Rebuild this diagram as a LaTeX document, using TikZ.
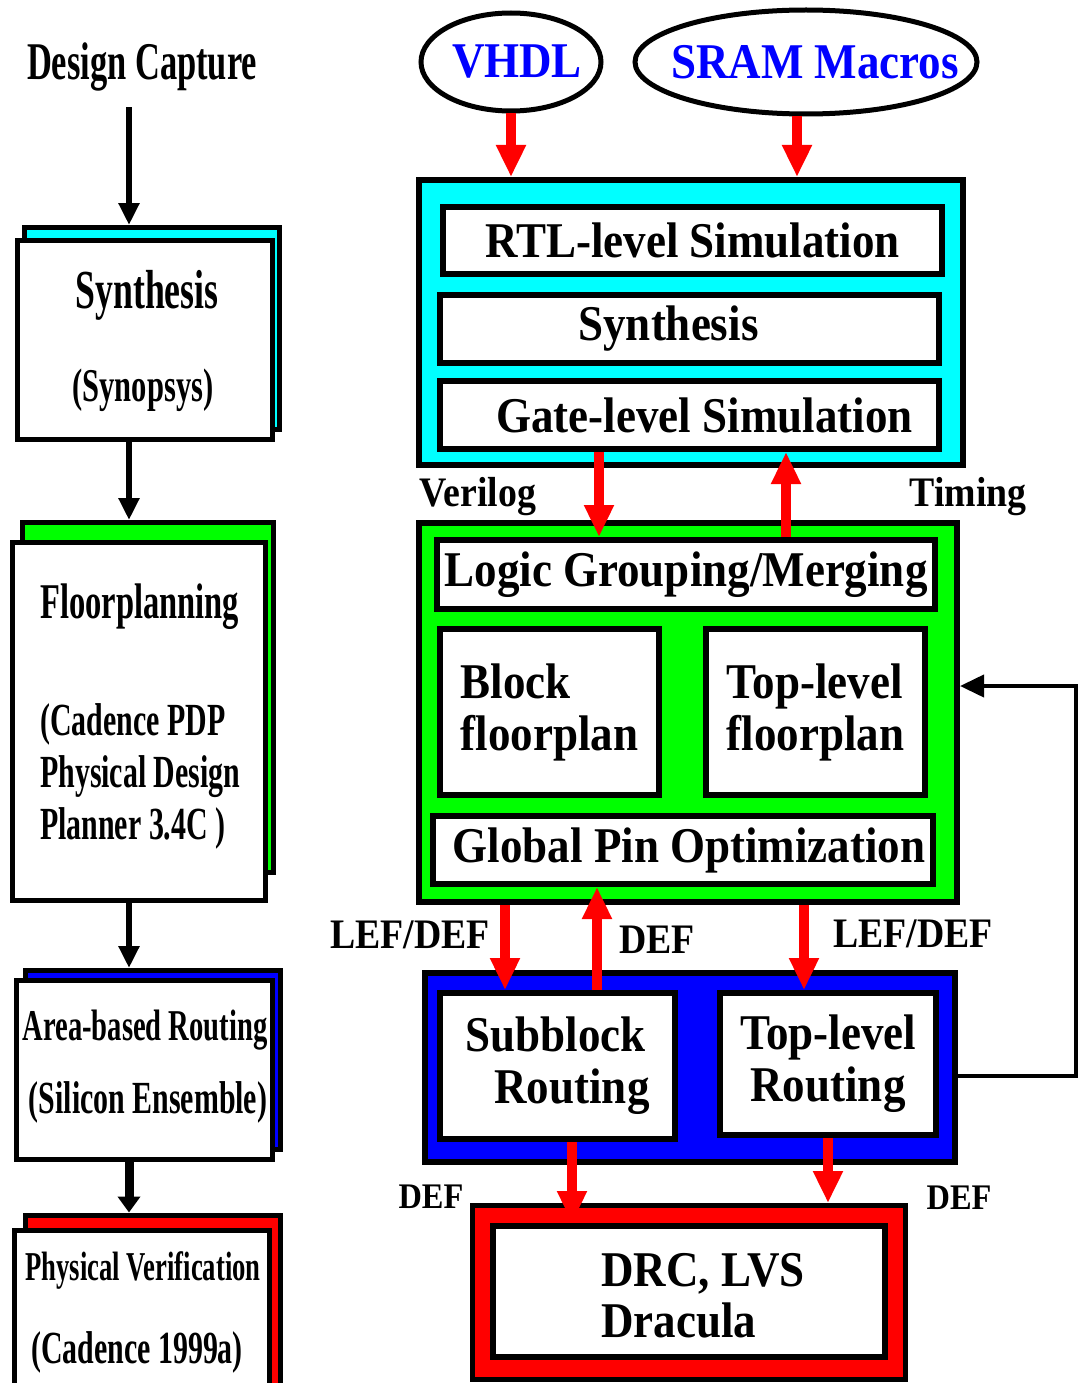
\documentclass[tikz,border=0pt]{standalone}
\usepackage{fontspec}
\setmainfont{Liberation Serif}
\newfontfamily\narrowfont[FakeStretch=0.65]{Liberation Serif}
\newfontfamily\wideserif[FakeStretch=0.9]{Liberation Serif}
\usetikzlibrary{arrows.meta,shapes.geometric}

\definecolor{aqua}{RGB}{0,255,255}
\definecolor{lime}{RGB}{0,255,0}

\newcommand{\sidefont}[1]{\narrowfont\bfseries\fontsize{#1}{#1}\selectfont}
\newcommand{\flowfont}[1]{\wideserif\bfseries\fontsize{#1}{#1}\selectfont}

\tikzset{
  sidebox/.style={draw,fill=white,line width=5pt,inner sep=0pt},
  backbox/.style={draw,line width=5pt,inner sep=0pt},
  panel/.style={draw,line width=6pt,inner sep=0pt},
  stagebox/.style={draw,fill=white,line width=6pt,inner sep=0pt,align=center,font=\flowfont{50}},
  srcoval/.style={ellipse,draw,fill=white,line width=5pt,inner sep=0pt,text=blue,font=\flowfont{50}},
  redarr/.style={draw=red,line width=10pt,-{Triangle[width=28pt,length=32pt]}},
  blkarr/.style={line width=6pt,-{Triangle[width=20pt,length=22pt]}},
  fbarr/.style={line width=4pt,-{Triangle[width=22pt,length=24pt]}},
  lbl/.style={inner sep=0pt,font=\flowfont{42}}
}

\begin{document}
\begin{tikzpicture}[x=1pt,y=-1pt]
    \useasboundingbox (0,0) rectangle (1078,1383);
    \clip (0,0) rectangle (1078,1383);

    % Left column
    \node (dc) at (142,67) [inner sep=0pt,font=\sidefont{53}] {Design Capture};

    \node (synb) at (152,328.5) [backbox,fill=aqua,minimum width=255,minimum height=202] {};
    \node (syn) at (145,340) [sidebox,minimum width=255,minimum height=199] {};
    \node (syntxt) at (147,295) [font=\sidefont{55}] {Synthesis};
    \node (syntool) at (143,390) [font=\sidefont{47}] {(Synopsys)};

    \node (fpb) at (148,697.5) [backbox,fill=lime,minimum width=251,minimum height=350] {};
    \node (fp) at (139,721.5) [sidebox,minimum width=253,minimum height=358] {};
    \node (fptxt) at (40,607) [anchor=west,inner sep=0pt,font=\sidefont{50}] {Floorplanning};
    \node (fptool) at (40,776) [anchor=west,inner sep=0pt,align=left,font=\sidefont{46}]
        {(Cadence PDP\\[6pt]Physical Design\\[6pt]Planner 3.4C )};

    \node (arb) at (153,1060) [backbox,fill=blue,minimum width=255,minimum height=179] {};
    \node (ar) at (144.5,1070) [sidebox,minimum width=256,minimum height=179] {};
    \node (artxt) at (145,1030) [font=\sidefont{44}] {Area-based Routing};
    \node (artool) at (148,1102) [font=\sidefont{46}] {(Silicon Ensemble)};

    \node (pvb) at (153,1307.5) [backbox,fill=red,minimum width=255,minimum height=185] {};
    \node (pv) at (142,1315) [sidebox,minimum width=255,minimum height=170] {};
    \node (pvtxt) at (143,1270) [font=\sidefont{41}] {Physical Verification};
    \node (pvtool) at (137,1352) [font=\sidefont{46}] {(Cadence 1999a)};

    % Left arrows
    \coordinate (la) at (129,0);
    \draw[blkarr,shorten <=16pt] (la |- dc.south) -- (la |- synb.north);
    \draw[blkarr] (la |- syn.south) -- (la |- fpb.north);
    \draw[blkarr] (la |- fp.south) -- (la |- arb.north);
    \draw[line width=9pt,-{Triangle[width=22pt,length=16pt]}] (la |- ar.south) -- (la |- pvb.north);

    % Sources
    \node (vhdl) at (511,62) [srcoval,minimum width=180,minimum height=98] {\makebox[0pt]{\hspace*{12pt}VHDL}};
    \node (sram) at (806,62) [srcoval,minimum width=342,minimum height=104] {\makebox[0pt]{\hspace*{18pt}SRAM Macros}};

    % Panels and stages
    \node (cyanp) at (691,322.5) [panel,fill=aqua,minimum width=544,minimum height=285] {};
    \node (rtl) at (692.5,240.5) [stagebox,minimum width=499,minimum height=67] {RTL-level Simulation};
    \node (syn2) at (689.5,329) [stagebox,minimum width=499,minimum height=68] {Synthesis\hspace*{42pt}};
    \node (gate) at (689.5,415) [stagebox,minimum width=499,minimum height=68] {\hspace*{30pt}Gate-level Simulation};

    \node (greenp) at (688,712.5) [panel,fill=lime,minimum width=538,minimum height=379] {};
    \node (logic) at (686,574.5) [stagebox,minimum width=498,minimum height=69] {Logic Grouping/Merging};
    \node (block) at (549.5,712) [stagebox,align=left,minimum width=219,minimum height=166] {Block\\[2pt]floorplan};
    \node (tfp) at (815.5,712) [stagebox,align=left,minimum width=219,minimum height=166] {Top-level\\[2pt]floorplan};
    \node (pin) at (683,850) [stagebox,minimum width=500,minimum height=68] {\hspace*{12pt}Global Pin Optimization};

    \node (bluep) at (690,1067.5) [panel,fill=blue,minimum width=530,minimum height=189] {};
    \node (sub) at (557.5,1066) [stagebox,align=left,minimum width=235,minimum height=146] {Subblock\\[2pt]\hspace*{29pt}Routing};
    \node (trt) at (828,1064) [stagebox,minimum width=216,minimum height=142] {Top-level\\[2pt]Routing};

    \node (drc) at (689,1292.5) [draw,fill=red,line width=5pt,inner sep=0pt,minimum width=433,minimum height=174] {};
    \node (drcin) at (689,1291.5) [draw,fill=white,line width=6pt,inner sep=0pt,minimum width=392,minimum height=131] {};
    \node (drctxt) at (601,1296) [anchor=west,inner sep=0pt,align=left,font=\flowfont{50}] {DRC, LVS\\[1pt]Dracula};

    % Labels
    \node (verilog) at (478,497) [lbl] {Verilog};
    \node (timing) at (968,497) [lbl] {Timing};
    \node (lefdef1) at (410,935) [lbl] {LEF/DEF};
    \node (def1) at (657,940) [lbl] {DEF};
    \node (lefdef2) at (913,934) [lbl] {LEF/DEF};
    \node (def2) at (431,1197) [lbl,font=\flowfont{36}] {DEF};
    \node (def3) at (959,1198) [lbl,font=\flowfont{36}] {DEF};

    % Red arrows
    \coordinate (xs) at (797,0);
    \coordinate (xd1) at (599,0);
    \coordinate (xu1) at (786,0);
    \coordinate (xd2) at (505,0);
    \coordinate (xu2) at (597,0);
    \coordinate (xd3) at (804,0);
    \coordinate (xd4) at (572,0);
    \draw[redarr] (vhdl.south) -- (vhdl.south |- cyanp.north);
    \draw[redarr] (xs |- sram.south) -- (xs |- cyanp.north);
    \draw[redarr] (xd1 |- gate.south) -- (xd1 |- logic.north);
    \draw[redarr] (xu1 |- logic.north) -- (xu1 |- gate.south);
    \draw[redarr] (xd2 |- greenp.south) -- (xd2 |- sub.north);
    \draw[redarr] (xu2 |- sub.north) -- (xu2 |- pin.south);
    \draw[redarr] (xd3 |- greenp.south) -- (xd3 |- trt.north);
    \draw[redarr] (xd4 |- sub.south) -- (xd4 |- drcin.north);
    \draw[redarr] (trt.south) -- (trt.south |- drc.north);

    % Feedback
    \coordinate (fb) at (1076,686);
    \draw[fbarr] ([yshift=-8pt]bluep.east) -| (fb) -- (greenp.east |- fb);
\end{tikzpicture}
\end{document}
